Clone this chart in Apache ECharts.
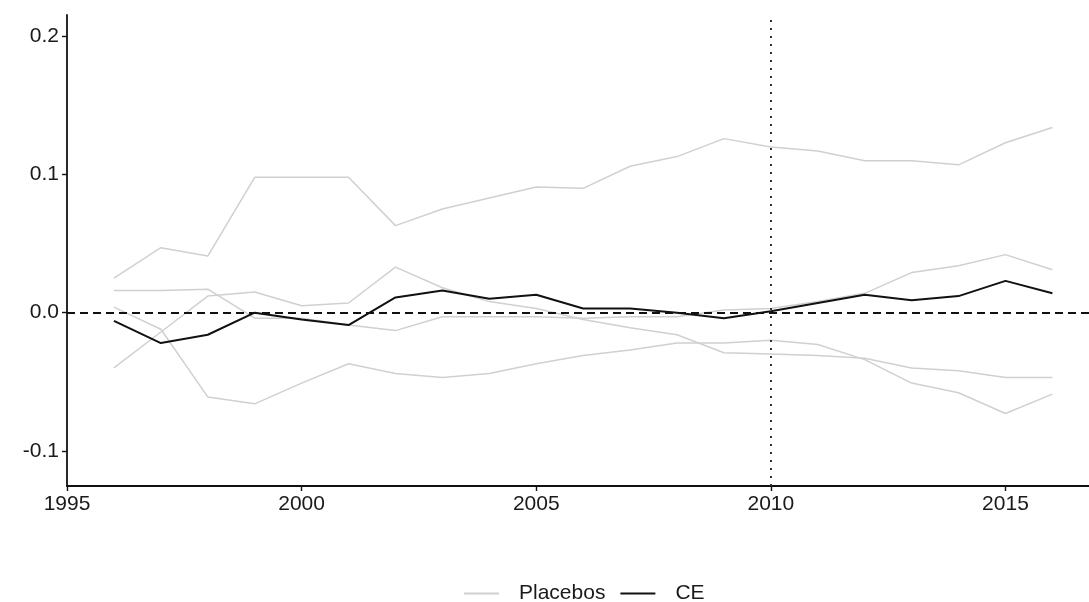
<!DOCTYPE html>
<html>
<head>
<meta charset="utf-8">
<script src="https://cdn.jsdelivr.net/npm/echarts@6/dist/echarts.min.js"></script>
<style>
  html, body { margin: 0; padding: 0; background: #fff; }
  #chart { width: 1089px; height: 602px; }
</style>
</head>
<body>
<div id="chart"></div>
<script>
// Years on the horizontal axis
const years = [1996, 1997, 1998, 1999, 2000, 2001, 2002, 2003, 2004, 2005, 2006,
               2007, 2008, 2009, 2010, 2011, 2012, 2013, 2014, 2015, 2016];

// Treated unit gap (CE)
const ce = [-0.006, -0.022, -0.016, 0.000, -0.005, -0.009, 0.011, 0.016, 0.010, 0.013, 0.003,
            0.003, 0.000, -0.004, 0.001, 0.007, 0.013, 0.009, 0.012, 0.023, 0.014];

// Placebo gaps
const placeboA = [0.025, 0.047, 0.041, 0.098, 0.098, 0.098, 0.063, 0.075, 0.083, 0.091, 0.090,
                  0.106, 0.113, 0.126, 0.120, 0.117, 0.110, 0.110, 0.107, 0.123, 0.134];
const placeboB = [0.016, 0.016, 0.017, -0.004, -0.004, -0.009, -0.013, -0.003, -0.003, -0.003, -0.004,
                  -0.003, -0.003, 0.002, 0.003, 0.008, 0.014, 0.029, 0.034, 0.042, 0.031];
const placeboC = [-0.040, -0.014, 0.012, 0.015, 0.005, 0.007, 0.033, 0.018, 0.008, 0.003, -0.005,
                  -0.011, -0.016, -0.029, -0.030, -0.031, -0.033, -0.040, -0.042, -0.047, -0.047];
const placeboD = [0.004, -0.012, -0.061, -0.066, -0.051, -0.037, -0.044, -0.047, -0.044, -0.037, -0.031,
                  -0.027, -0.022, -0.022, -0.020, -0.023, -0.034, -0.051, -0.058, -0.073, -0.059];

// Axis ticks and reference lines
const xTicks = [1995, 2000, 2005, 2010, 2015];
const yTicks = [-0.1, 0.0, 0.1, 0.2];
const treatmentYear = 2010;

const pair = arr => years.map((y, i) => [y, arr[i]]);

const FONT = 'Liberation Sans, Arial, sans-serif';
const placeboStyle = { color: '#d0d0d0', width: 1.5 };

function placeboSeries(arr) {
  return {
    name: 'Placebos', type: 'line', data: pair(arr),
    symbol: 'none', smooth: false, z: 2,
    lineStyle: placeboStyle, itemStyle: { color: '#d0d0d0' },
    emphasis: { disabled: true }, silent: true
  };
}

const chart = echarts.init(document.getElementById('chart'), null, { renderer: 'canvas' });

chart.setOption({
  animation: false,
  backgroundColor: '#ffffff',
  grid: { left: 67, right: 0, top: 15, bottom: 116, containLabel: false },
  legend: {
    data: ['Placebos', 'CE'],
    left: 459, top: 578,
    itemWidth: 35, itemHeight: 14, itemGap: 15,
    icon: 'path://M0,0 L35,0 L35,2 L0,2 Z',
    textStyle: { fontFamily: FONT, fontSize: 21, color: '#1a1a1a', padding: [0, 0, 0, 15] }
  },
  xAxis: {
    type: 'value', min: 1995, max: 2016.78,
    axisLine: { show: true, onZero: false, lineStyle: { color: '#111', width: 1.8 } },
    axisTick: { show: true, length: 5, lineStyle: { color: '#111', width: 1.4 }, customValues: xTicks },
    axisLabel: {
      customValues: xTicks, fontFamily: FONT, fontSize: 21, color: '#1a1a1a', margin: 8,
      formatter: v => String(v)
    },
    splitLine: { show: false }
  },
  yAxis: {
    type: 'value', min: -0.1255, max: 0.2155,
    axisLine: { show: true, onZero: false, lineStyle: { color: '#111', width: 1.8 } },
    axisTick: { show: true, length: 5, lineStyle: { color: '#111', width: 1.4 }, customValues: yTicks },
    axisLabel: {
      customValues: yTicks, fontFamily: FONT, fontSize: 21, color: '#1a1a1a', margin: 8,
      formatter: v => v.toFixed(1)
    },
    splitLine: { show: false }
  },
  series: [
    placeboSeries(placeboA),
    placeboSeries(placeboB),
    placeboSeries(placeboC),
    placeboSeries(placeboD),
    {
      name: 'CE', type: 'line', data: pair(ce),
      symbol: 'none', z: 4,
      lineStyle: { color: '#111', width: 2 }, itemStyle: { color: '#111' },
      emphasis: { disabled: true }, silent: true,
      markLine: {
        silent: true, symbol: 'none', label: { show: false },
        data: [
          { yAxis: 0, lineStyle: { color: '#111', width: 2, type: [8, 5] } },
          { xAxis: treatmentYear, lineStyle: { color: '#333', width: 2, type: [2, 6] } }
        ]
      }
    }
  ]
});
</script>
</body>
</html>
